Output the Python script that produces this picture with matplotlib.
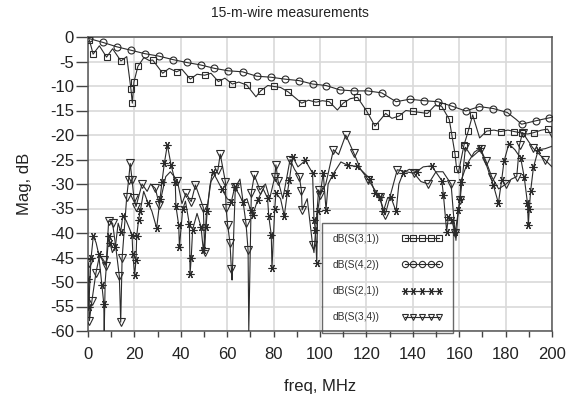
import numpy as np
import matplotlib
matplotlib.use("Agg")
import matplotlib.pyplot as plt
from matplotlib.ticker import MultipleLocator, FuncFormatter

plt.rcParams['font.family'] = ['Liberation Sans', 'DejaVu Sans']
plt.rcParams['axes.unicode_minus'] = False

title = "15-m-wire measurements"
xlabel = "freq, MHz"
ylabel = "Mag, dB"
labels = ["dB(S(3,1))", "dB(S(4,2))", "dB(S(2,1))", "dB(S(3,4))"]

# ---- dB(S(3,1)) squares ----
s31_f = [0.6, 2.2, 8.0, 14.2, 18.5, 19.1, 19.8, 21.5, 27.9, 32.2, 38.2, 44.1, 50.3, 56.2, 62.2,
         68.4, 74.4, 80.2, 86.3, 92.1, 98.3, 104.0, 110.0, 116.1, 120.1, 123.7, 128.3, 134.2,
         140.2, 146.3, 152.4, 155.7, 156.8, 158.2, 158.9, 162.1, 163.9, 165.8, 171.8, 177.9,
         183.8, 186.9, 192.2, 198.1]
s31_db = [-0.6, -3.5, -4.1, -4.9, -10.6, -13.5, -9.2, -6.0, -4.7, -7.4, -7.1, -8.6, -7.8, -9.1, -9.6,
          -9.8, -11.0, -10.1, -11.2, -13.5, -13.3, -13.2, -13.5, -12.3, -15.1, -18.2, -15.6, -16.1,
          -15.2, -15.6, -14.1, -16.8, -19.9, -23.9, -26.9, -22.0, -19.2, -15.9, -19.2, -19.3,
          -19.3, -19.6, -19.5, -18.8]
s31_ripple_f = [4.9, 10.6, 16.7, 24.1, 26.4, 35.0, 40.5, 47.0, 53.0, 59.0, 65.0, 72.4, 77.5, 83.0,
                95.0, 101.0, 107.5, 113.0, 131.0, 137.0, 149.5, 159.6, 168.8, 175.0, 181.0, 189.5, 195.5, 200.0]
s31_ripple_db = [-1.8, -2.4, -4.0, -4.2, -4.8, -6.4, -6.6, -7.6, -7.4, -8.4, -9.2, -12.2, -9.9, -10.3,
                 -12.9, -13.0, -14.9, -12.6, -16.6, -15.0, -14.0, -27.8, -20.6, -19.0, -19.0, -19.8, -19.0, -20.5]

# ---- dB(S(4,2)) circles ----
s42_f = [0.3, 6.4, 12.4, 18.5, 24.5, 30.5, 36.5, 42.5, 48.5, 54.5, 60.5, 66.6, 72.7, 78.7, 84.9,
         91.0, 96.8, 102.6, 108.6, 114.7, 120.5, 126.6, 132.8, 138.7, 144.8, 150.7, 156.8, 162.8,
         168.7, 174.7, 180.7, 186.9, 193.0, 198.8]
s42_db = [-0.3, -1.1, -2.0, -2.7, -3.4, -3.9, -4.6, -5.2, -5.7, -6.4, -6.9, -7.1, -8.0, -8.2, -8.6,
          -8.9, -9.6, -9.9, -10.8, -11.0, -11.0, -11.4, -13.2, -12.7, -13.0, -13.2, -14.1, -15.1,
          -14.2, -14.6, -15.4, -17.8, -17.1, -16.5]
s42_ripple_f = [130.0, 184.5, 200.0]
s42_ripple_db = [-12.4, -16.8, -16.4]

# ---- dB(S(2,1)) asterisks ----
s21_f = [0.0, 0.3, 1.3, 2.3, 4.6, 6.0, 6.8, 8.9, 9.5, 11.8, 14.1, 15.0, 19.0, 19.3, 20.1, 20.7,
         21.0, 21.8, 22.5, 25.9, 29.6, 31.0, 31.9, 32.9, 34.2, 35.8, 37.6, 37.9, 39.1, 39.4, 40.8,
         43.7, 44.0, 44.5, 45.1, 48.7, 49.7, 50.9, 51.4, 53.7, 57.8, 61.8, 63.2, 66.7, 70.1, 71.0,
         73.1, 77.4, 77.9, 79.0, 79.3, 80.5, 81.0, 84.6, 85.9, 86.8, 88.2, 93.7, 96.8, 97.4, 98.0,
         98.6, 99.0, 101.4, 102.6, 105.5, 112.0, 116.1, 121.7, 123.8, 125.7, 127.3, 130.5, 132.8,
         135.9, 141.6, 148.1, 152.5, 153.2, 154.6, 155.3, 156.7, 158.2, 159.6, 160.3, 160.7, 163.2,
         169.0, 174.7, 176.9, 178.3, 179.3, 181.4, 186.5, 188.0, 189.4, 189.8, 190.2, 190.8, 192.0,
         194.1]
s21_db = [-49.3, -55.2, -45.2, -40.6, -44.3, -50.6, -54.4, -40.6, -42.1, -42.8, -39.7, -36.5, -40.4,
          -44.2, -48.6, -45.5, -40.6, -37.3, -35.6, -33.9, -39.0, -33.1, -29.5, -25.8, -22.0, -26.1,
          -29.5, -34.5, -38.4, -42.9, -35.2, -38.2, -48.4, -45.0, -39.3, -38.7, -43.5, -38.7, -35.6,
          -27.5, -31.1, -33.6, -30.7, -33.6, -35.4, -36.3, -33.3, -32.9, -36.5, -40.4, -47.2, -35.0,
          -31.9, -36.5, -31.9, -29.2, -24.4, -25.2, -27.8, -37.3, -39.3, -46.1, -35.6, -27.8, -35.3,
          -28.1, -26.2, -26.4, -29.0, -31.9, -32.6, -35.6, -32.6, -35.6, -27.7, -27.5, -26.3, -29.3,
          -32.2, -39.7, -36.8, -37.3, -39.7, -35.4, -33.1, -29.5, -26.1, -22.7, -30.2, -33.9, -29.2,
          -25.4, -21.8, -24.7, -28.5, -33.8, -38.4, -35.2, -31.4, -26.6, -23.0]
s21_ripple_f = [3.5, 7.0, 7.4, 10.5, 13.0, 16.5, 24.0, 27.5, 42.0, 47.0, 52.5, 55.5, 60.0, 65.0,
                68.5, 75.5, 83.0, 90.5, 103.5, 109.0, 118.5, 129.0, 134.0, 138.5, 144.5, 158.6,
                166.5, 172.0, 184.0, 197.0, 200.0]
s21_ripple_db = [-42.0, -60.0, -50.0, -44.0, -38.0, -37.5, -31.5, -35.5, -33.5, -36.0, -30.5, -29.0,
                 -33.0, -32.0, -33.0, -31.0, -33.0, -26.5, -30.0, -25.5, -27.5, -33.0, -30.0, -27.0,
                 -26.5, -41.5, -23.5, -26.5, -23.0, -22.8, -22.3]

# ---- dB(S(3,4)) triangles ----
s34_f = [0.3, 0.6, 1.7, 3.4, 6.8, 7.8, 8.9, 10.6, 13.5, 14.1, 14.7, 16.7, 17.5, 18.2, 19.0, 19.8,
         20.7, 23.3, 29.0, 30.8, 38.5, 42.2, 44.5, 46.3, 49.7, 50.3, 56.0, 57.0, 59.2, 59.5, 60.2,
         61.2, 61.8, 63.5, 68.1, 69.0, 70.4, 71.7, 74.1, 80.5, 81.0, 81.9, 87.1, 91.1, 92.0, 92.3,
         96.8, 99.4, 100.2, 105.8, 111.1, 114.6, 120.9, 125.7, 128.1, 133.3, 140.5, 146.7, 156.5,
         158.2, 160.4, 162.7, 169.3, 171.6, 174.0, 180.2, 184.8, 186.0, 187.3, 191.7, 196.8]
s34_db = [-46.1, -57.9, -53.8, -48.2, -45.6, -46.7, -37.5, -38.0, -48.8, -58.2, -45.2, -32.6, -29.2,
          -25.8, -29.2, -32.9, -34.6, -30.0, -30.9, -34.3, -29.3, -31.9, -33.6, -30.2, -34.8, -43.8,
          -27.1, -23.9, -29.5, -34.8, -38.4, -42.0, -47.4, -30.7, -38.0, -43.5, -31.8, -28.2, -31.2,
          -28.6, -26.1, -29.3, -25.0, -28.5, -31.4, -35.3, -42.4, -31.2, -32.2, -23.0, -20.0, -23.7,
          -29.2, -32.7, -36.3, -27.1, -27.8, -30.0, -30.0, -40.1, -33.2, -22.5, -22.9, -25.4, -28.5,
          -30.0, -28.5, -22.0, -19.5, -22.6, -25.0]
s34_ripple_f = [5.0, 12.0, 25.5, 27.0, 33.5, 35.5, 40.5, 51.0, 53.0, 62.1, 65.5, 69.3, 76.5, 78.3,
                84.0, 89.0, 94.5, 97.4, 102.5, 108.0, 117.5, 130.5, 137.0, 143.5, 150.0, 153.0,
                165.5, 177.0, 182.5, 200.0]
s34_ripple_db = [-44.5, -43.0, -31.5, -30.0, -28.5, -27.5, -34.0, -36.0, -29.5, -49.6, -29.0, -60.0,
                 -30.0, -33.0, -33.0, -27.0, -33.0, -44.0, -30.0, -24.0, -27.0, -32.0, -27.5, -29.5,
                 -27.5, -27.5, -24.5, -31.0, -29.0, -26.5]

ink = '#2b2b2b'
W, H = 579, 400
fig = plt.figure(figsize=(W / 100, H / 100), dpi=100)
ax = fig.add_axes([88 / W, 1 - 331 / H, 464 / W, 294 / H])


def draw(f, db, rf, rdb, marker, ms, label):
    f = np.asarray(f, float)
    db = np.asarray(db, float)
    lf = np.concatenate([f, np.asarray(rf, float)])
    ldb = np.concatenate([db, np.asarray(rdb, float)])
    order = np.argsort(lf, kind='stable')
    ax.plot(lf[order], ldb[order], color=ink, lw=0.8, zorder=3, clip_on=True)
    ax.plot(f, db, linestyle='none', marker=marker, ms=ms, mfc='none', mec=ink, mew=0.8,
            zorder=4, clip_on=True)
    ax.plot([], [], color=ink, lw=0.8, marker=marker, ms=ms - 0.5, mfc='none', mec=ink,
            mew=0.8, label=label)


draw(s31_f, s31_db, s31_ripple_f, s31_ripple_db, 's', 4.6, labels[0])
draw(s42_f, s42_db, s42_ripple_f, s42_ripple_db, 'o', 5.0, labels[1])
draw(s21_f, s21_db, s21_ripple_f, s21_ripple_db, (6, 2, 90), 5.6, labels[2])
draw(s34_f, s34_db, s34_ripple_f, s34_ripple_db, 'v', 5.2, labels[3])

ax.set_xlim(0, 200)
ax.set_ylim(-60, 0)
ax.xaxis.set_major_locator(MultipleLocator(20))
ax.xaxis.set_minor_locator(MultipleLocator(10))
ax.yaxis.set_major_locator(MultipleLocator(5))
ax.xaxis.set_major_formatter(FuncFormatter(lambda v, p: f"{v:.0f}"))
ax.yaxis.set_major_formatter(FuncFormatter(lambda v, p: f"{v:.0f}"))
ax.grid(True, which='major', color='#d9d9d9', lw=1.2, zorder=0)
ax.set_axisbelow(True)
ax.tick_params(axis='x', which='both', direction='out', length=4.5, width=1, color='#444',
               labelsize=12, pad=7, labelcolor='#222')
ax.tick_params(axis='y', which='both', direction='out', length=8.5, width=1, color='#444',
               labelsize=12, pad=1.5, labelcolor='#222')
for s in ax.spines.values():
    s.set_color('#555')
    s.set_linewidth(1.1)

leg = ax.legend(loc='upper left', bbox_to_anchor=((322 - 88) / 464, (331 - 223) / 294),
                markerfirst=False, numpoints=5, handlelength=4.0, handletextpad=2.2,
                labelspacing=1.6, borderpad=1.05, borderaxespad=0, fontsize=7.3,
                fancybox=False, frameon=True, labelcolor='#333')
fr = leg.get_frame()
fr.set_facecolor('none')
fr.set_edgecolor('#444')
fr.set_linewidth(1.0)
leg.set_zorder(2)

fig.text(0.5, 1 - 13 / H, title, ha='center', va='center', fontsize=10, color='#222')
fig.text(320 / W, 1 - 387 / H, xlabel, ha='center', va='center', fontsize=12, color='#222')
fig.text(25 / W, 1 - 184 / H, ylabel, ha='center', va='center', rotation=90, fontsize=12,
         color='#222')

fig.savefig('out.png', dpi=100)
